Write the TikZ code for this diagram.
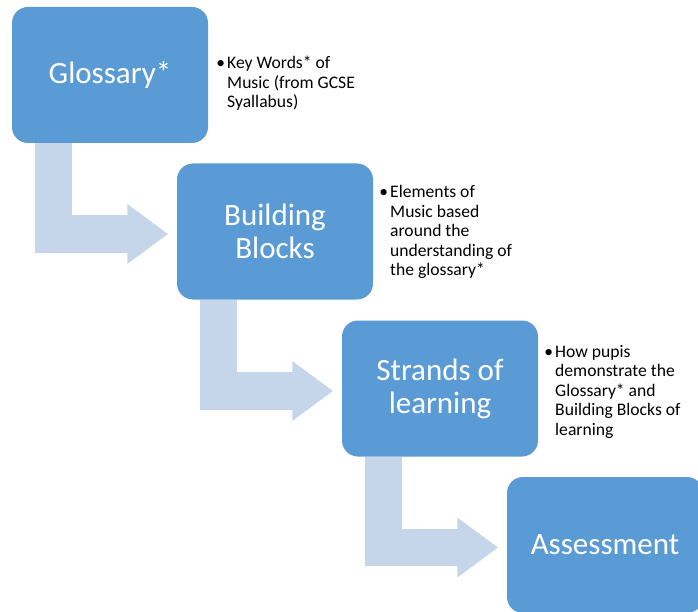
\documentclass[tikz,border=0pt]{standalone}
\usepackage{fontspec}
\setmainfont{Carlito}
\usetikzlibrary{arrows.meta}
\definecolor{stageblue}{RGB}{91,155,213}
\definecolor{arrowblue}{RGB}{197,213,234}
\begin{document}
\begin{tikzpicture}[x=1pt,y=-1pt]
\useasboundingbox (0,0) rectangle (698,612);
% Configuración de estilos
\tikzstyle{stage} = [rectangle, rounded corners=16pt, fill=stageblue, minimum width=196pt, minimum height=136pt, text=white, align=center, font=\fontsize{31}{33}\selectfont]
\tikzstyle{note} = [anchor=north west, inner sep=0pt, align=left, font=\fontsize{17.6}{19.5}\selectfont]
\tikzstyle{bent} = [line width=37.5pt, draw=arrowblue, -{Triangle[length=41pt,width=57pt]}]

% Cajas de las etapas
\node[stage] (glossary) at (110,75) {Glossary*};
\node[stage] (blocks) at (275,231.5) {Building\\Blocks};
\node[stage] (strands) at (440,388.5) {Strands of\\learning};
\node[stage] (assessment) at (605,545) {Assessment};

% Flechas en L entre etapas
\draw[bent] ([xshift=41.5pt]glossary.south west) |- ([xshift=-8.5pt,yshift=-2.5pt]blocks.west);
\draw[bent] ([xshift=41.5pt]blocks.south west) |- ([xshift=-8.5pt,yshift=-2.5pt]strands.west);
\draw[bent] ([xshift=41.5pt]strands.south west) |- ([xshift=-8.5pt,yshift=-2.5pt]assessment.west);

% Notas con viñeta
\node[note] (keywords) at (227,56) {\llap{\textbullet\hspace{2pt}}Key Words* of\\Music (from GCSE\\Syallabus)};
\node[note] (elements) at (390,185.5) {\llap{\textbullet\hspace{2pt}}Elements of\\Music based\\around the\\understanding of\\the glossary*};
\node[note] (pupils) at (555,345) {\llap{\textbullet\hspace{2pt}}How pupis\\demonstrate the\\Glossary* and\\Building Blocks of\\learning};
\end{tikzpicture}
\end{document}
